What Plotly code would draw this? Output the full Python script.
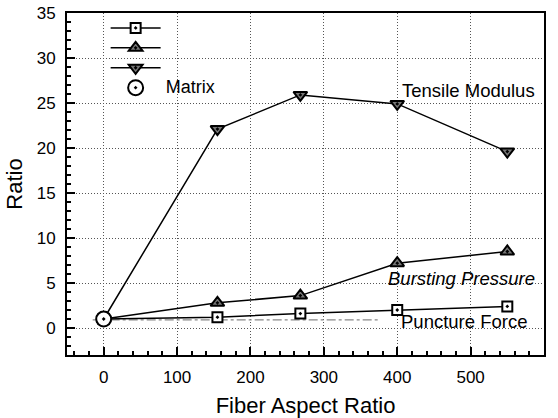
import plotly.graph_objects as go

aspect = [0, 155, 268, 400, 550]
puncture = [1.0, 1.2, 1.6, 2.0, 2.4]
bursting = [1.0, 2.8, 3.6, 7.2, 8.5]
tensile = [1.0, 22.1, 25.9, 24.9, 19.6]
matrix_x = [0]
matrix_y = [1.0]
ref_x = [-15, 375]
ref_y = [0.9, 0.9]

fig = go.Figure()
fig.add_trace(go.Scatter(x=ref_x, y=ref_y, mode="lines", showlegend=False,
                         line=dict(color="#888", width=1.2, dash="dashdot"), hoverinfo="skip"))
common_line = dict(color="black", width=1.5)
fig.add_trace(go.Scatter(x=aspect, y=puncture, mode="lines+markers", name=" ",
                         line=common_line,
                         marker=dict(symbol="square-dot", size=10, color="white",
                                     line=dict(color="black", width=2))))
fig.add_trace(go.Scatter(x=aspect, y=bursting, mode="lines+markers", name=" ",
                         line=common_line,
                         marker=dict(symbol="triangle-up-dot", size=12, color="#777",
                                     line=dict(color="black", width=2))))
fig.add_trace(go.Scatter(x=aspect, y=tensile, mode="lines+markers", name=" ",
                         line=common_line,
                         marker=dict(symbol="triangle-down-dot", size=12, color="#777",
                                     line=dict(color="black", width=2))))
fig.add_trace(go.Scatter(x=matrix_x, y=matrix_y, mode="markers",
                         name="<span style='font-size:18px'>Matrix</span>",
                         marker=dict(symbol="circle-dot", size=15, color="white",
                                     line=dict(color="black", width=2))))

font = dict(family="Liberation Sans, Arial, sans-serif", color="black")
fig.add_annotation(x=590, y=26.4, text="Tensile Modulus", showarrow=False,
                   xanchor="right", yanchor="middle", font=dict(size=18.5, **font))
fig.add_annotation(x=590, y=5.5, text="<i>Bursting Pressure</i>", showarrow=False,
                   xanchor="right", yanchor="middle", font=dict(size=18.5, **font))
fig.add_annotation(x=580, y=0.7, text="Puncture Force", showarrow=False,
                   xanchor="right", yanchor="middle", font=dict(size=18.5, **font))

axis_common = dict(showline=True, linecolor="black", linewidth=2, mirror=True,
                   ticks="inside", ticklen=8, tickcolor="black", tickwidth=1.5,
                   showgrid=True, gridcolor="#555", griddash="1px,2px", gridwidth=1,
                   zeroline=False, tickfont=dict(size=17, **font), automargin=False)
fig.update_xaxes(range=[-50, 600], tickvals=[0, 100, 200, 300, 400, 500, 600],
                 title=dict(text="Fiber Aspect Ratio", font=dict(size=22, **font), standoff=13),
                 ticklabelstandoff=6,
                 minor=dict(ticks="inside", dtick=20, tick0=0, ticklen=4, tickcolor="black",
                            showgrid=False),
                 **axis_common)
fig.update_yaxes(range=[-3, 35], tickvals=[0, 5, 10, 15, 20, 25, 30, 35],
                 title=dict(text="Ratio", font=dict(size=22, **font), standoff=8),
                 ticklabelstandoff=6,
                 minor=dict(ticks="inside", dtick=1, tick0=0, ticklen=4, tickcolor="black",
                            showgrid=False),
                 **axis_common)
fig.update_layout(width=558, height=418, margin=dict(l=67, r=14, t=13, b=63, autoexpand=False),
                  paper_bgcolor="white", plot_bgcolor="white",
                  font=font,
                  legend=dict(x=0.081, y=1.0, xanchor="left", yanchor="top",
                              bgcolor="rgba(0,0,0,0)", font=dict(size=13, **font),
                              tracegroupgap=0, itemwidth=50))
fig.write_html("out.html", config={"displayModeBar": False},
               post_script="document.body.style.margin='0';document.body.style.padding='0';")
